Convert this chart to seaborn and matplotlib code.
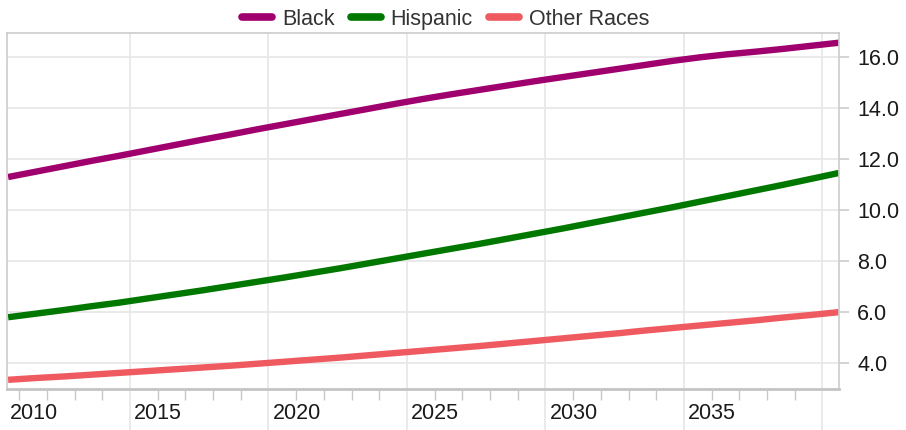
import numpy as np
import pandas as pd
import matplotlib
matplotlib.use('Agg')
import matplotlib.pyplot as plt
import matplotlib.transforms as mtransforms
import seaborn as sns

# values, one per year
years = list(range(2010, 2041))
black = [11.29, 11.50, 11.71, 11.92, 12.12, 12.33, 12.54, 12.75, 12.95, 13.16,
         13.36, 13.56, 13.76, 13.96, 14.16, 14.35, 14.53, 14.70, 14.87, 15.04,
         15.20, 15.36, 15.52, 15.68, 15.84, 15.98, 16.10, 16.20, 16.31, 16.43, 16.55]
hispanic = [5.80, 5.94, 6.08, 6.23, 6.37, 6.53, 6.69, 6.85, 7.02, 7.19,
            7.36, 7.54, 7.72, 7.91, 8.10, 8.29, 8.48, 8.67, 8.87, 9.07,
            9.27, 9.48, 9.69, 9.90, 10.11, 10.33, 10.55, 10.77, 10.99, 11.22, 11.45]
other = [3.35, 3.42, 3.48, 3.55, 3.62, 3.69, 3.76, 3.83, 3.90, 3.98,
         4.06, 4.14, 4.22, 4.31, 4.40, 4.49, 4.58, 4.67, 4.77, 4.87,
         4.97, 5.07, 5.17, 5.28, 5.38, 5.48, 5.58, 5.68, 5.79, 5.89, 6.00]
series_names = ['Black', 'Hispanic', 'Other Races']
colors = ['#a0006e', '#007800', '#ee5a60']
label_years = [2010, 2015, 2020, 2025, 2030, 2035]
y_ticks = [4.0, 6.0, 8.0, 10.0, 12.0, 14.0, 16.0]

# long table for seaborn
df = pd.DataFrame({
    'year': years * 3,
    'value': black + hispanic + other,
    'group': np.repeat(series_names, len(years)),
})

sns.set_style('white')
plt.rcParams['font.family'] = ['Liberation Sans', 'DejaVu Sans']
fsize = 15.5

fig = plt.figure(figsize=(9.06, 4.30), dpi=100)
ax = fig.add_axes([7 / 906, 41 / 430, 832 / 906, 356 / 430])

sns.lineplot(data=df, x='year', y='value', hue='group', hue_order=series_names,
             palette=colors, linewidth=4.6, ax=ax, legend=False,
             solid_capstyle='butt')

ax.set_xlim(2010 - 0.04, 2040.0)
ax.set_ylim(2.99, 16.93)
ax.set_xlabel('')
ax.set_ylabel('')

# y axis on the right
ax.yaxis.tick_right()
ax.set_yticks(y_ticks)
ax.set_yticklabels([f'{v:.1f}' for v in y_ticks])
ax.tick_params(axis='y', right=True, length=7, width=1.2, color='#cccccc',
               pad=6, labelsize=fsize, labelcolor='#1a1a1a')

# x grid sits a bit before each labelled year (year boundaries)
grid_years = np.array([2015, 2020, 2025, 2030, 2035, 2040]) - 0.6
minor_years = np.arange(2011, 2041) - 0.6
ax.set_xticks(grid_years)
ax.set_xticks(minor_years, minor=True)
ax.set_xticklabels([str(y) for y in label_years[1:]] + [''], ha='left')
ax.tick_params(axis='x', which='major', bottom=True, length=30, width=1.3,
               color='#e8e8e8', pad=-20, labelsize=fsize, labelcolor='#1a1a1a')
ax.tick_params(axis='x', which='minor', bottom=True, length=8, width=1.0,
               color='#c8c8c8')
offset = mtransforms.ScaledTranslation(4 / 100, 0, fig.dpi_scale_trans)
for lab in ax.get_xticklabels():
    lab.set_transform(lab.get_transform() + offset)
ax.text(0.004, -0.04, str(label_years[0]), transform=ax.transAxes, ha='left',
        va='top', fontsize=fsize, color='#1a1a1a')

ax.grid(True, which='major', color='#e8e8e8', linewidth=1.3)
ax.set_axisbelow(True)
for side in ['top', 'left', 'right']:
    ax.spines[side].set_color('#cccccc')
    ax.spines[side].set_linewidth(1.2)
ax.spines['bottom'].set_color('#c4c4c4')
ax.spines['bottom'].set_linewidth(2.0)

# legend on top
handles = [plt.Line2D([], [], color=c, linewidth=5.5) for c in colors]
leg = fig.legend(handles, series_names, loc='upper center',
                 bbox_to_anchor=(0.492, 1.025), ncol=3, frameon=False,
                 fontsize=fsize, handlelength=1.4, handletextpad=0.45,
                 columnspacing=0.75)
for t in leg.get_texts():
    t.set_color('#333333')

fig.savefig('out.png', dpi=100)
